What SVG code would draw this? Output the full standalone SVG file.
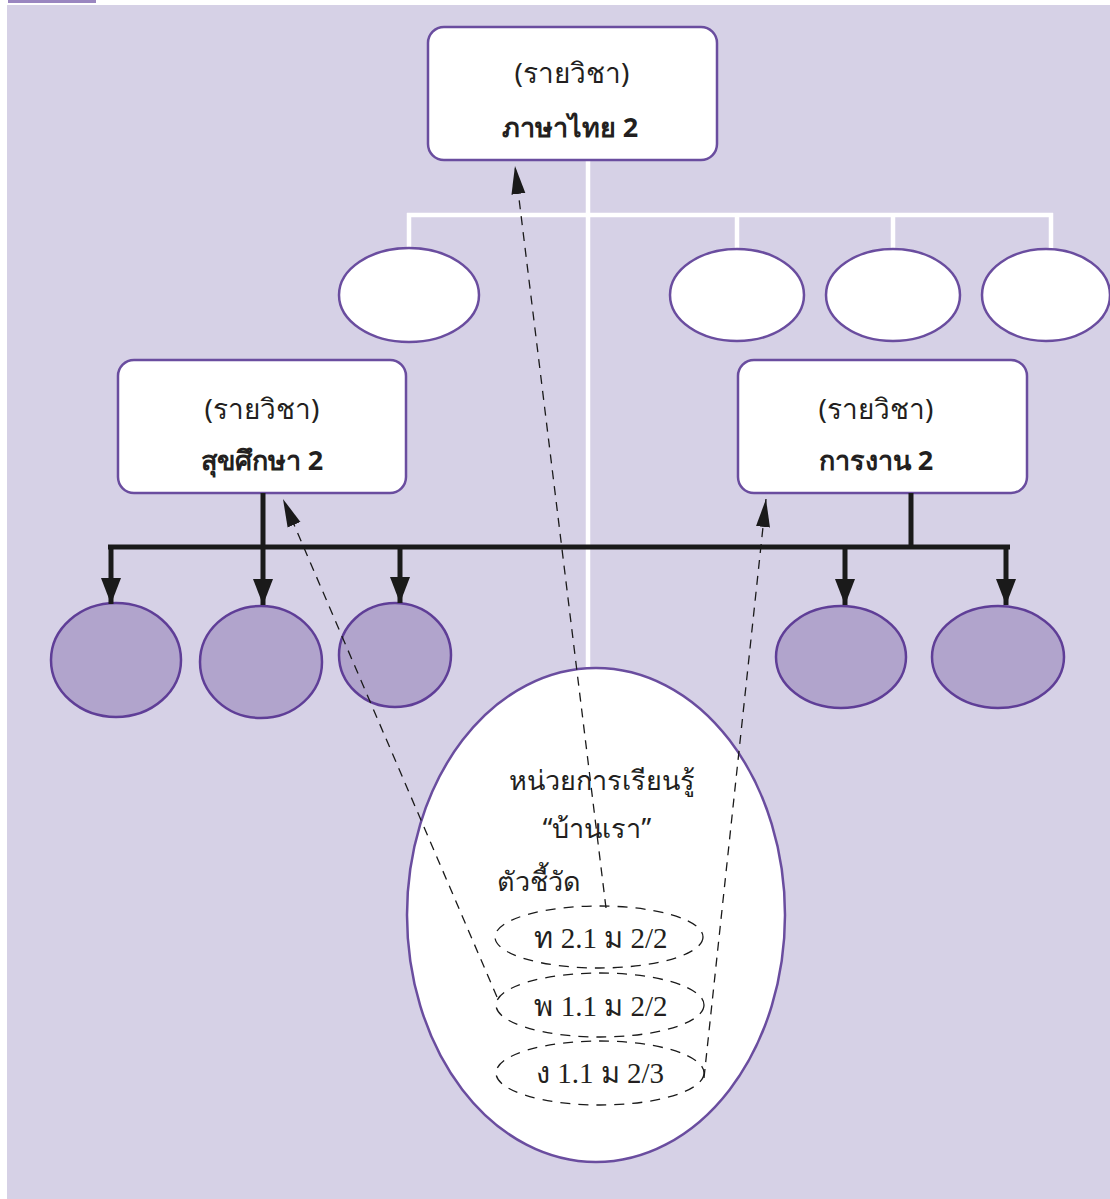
<svg xmlns="http://www.w3.org/2000/svg" width="1110" height="1199" viewBox="0 0 1110 1199">
<defs>
<style>
.bg{fill:#d6d1e6}
.box{fill:#ffffff;stroke:#6a4d9f;stroke-width:2.5}
.wel{fill:#ffffff;stroke:#6a4d9f;stroke-width:2.5}
.pel{fill:#b1a4cc;stroke:#5f3e97;stroke-width:2.5}
.wline{stroke:#ffffff;stroke-width:4.5;fill:none}
.bline{stroke:#1a1a1a;stroke-width:5;fill:none}
.dash{stroke:#1a1a1a;stroke-width:1.3;fill:none;stroke-dasharray:9,7}
.dell{fill:none;stroke:#1a1a1a;stroke-width:1.3;stroke-dasharray:10,8}
.t{font-family:'Noto Sans','Liberation Sans',sans-serif;font-size:28px;fill:#231f20;text-anchor:middle}
.tb{font-weight:bold;font-size:27px}
.ts{font-family:'Noto Sans','Liberation Sans',sans-serif;font-size:27px;fill:#231f20;text-anchor:middle}
.ti{font-family:'Liberation Serif','Noto Sans',serif;font-size:29px;fill:#231f20;text-anchor:middle}
</style>
<marker id="dh" viewBox="0 0 28 16" refX="28" refY="8" markerWidth="28" markerHeight="16" orient="auto" markerUnits="userSpaceOnUse">
<path d="M0,1 L28,8 L0,15 Z" fill="#1a1a1a"/>
</marker>
<marker id="bh" viewBox="0 0 26 20" refX="26" refY="10" markerWidth="26" markerHeight="20" orient="auto" markerUnits="userSpaceOnUse">
<path d="M0,0 L26,10 L0,20 Z" fill="#1a1a1a"/>
</marker>
</defs>
<rect x="0" y="0" width="1110" height="1199" fill="#ffffff"/>
<rect class="bg" x="7" y="5" width="1103" height="1194"/>
<rect x="8" y="0" width="88" height="3" fill="#9a86c0"/>

<g id="white-connectors">
<line class="wline" x1="588" y1="160" x2="588" y2="669"/>
<line class="wline" x1="407" y1="215" x2="1053" y2="215"/>
<line class="wline" x1="409" y1="213" x2="409" y2="249"/>
<line class="wline" x1="737" y1="213" x2="737" y2="249"/>
<line class="wline" x1="893" y1="213" x2="893" y2="249"/>
<line class="wline" x1="1051" y1="213" x2="1051" y2="249"/>
</g>

<g id="node-top">
<rect class="box" x="428" y="27" width="289" height="133" rx="16"/>
<text class="t" x="572" y="83">(รายวิชา)</text>
<text class="t tb" x="570" y="137">ภาษาไทย 2</text>
</g>

<g id="node-w1"><ellipse class="wel" cx="409" cy="295" rx="70" ry="47"/></g>
<g id="node-w2"><ellipse class="wel" cx="737" cy="295" rx="67" ry="46"/></g>
<g id="node-w3"><ellipse class="wel" cx="893" cy="295" rx="67" ry="46"/></g>
<g id="node-w4"><ellipse class="wel" cx="1046" cy="295" rx="64" ry="46"/></g>

<g id="node-left">
<rect class="box" x="118" y="360" width="288" height="133" rx="16"/>
<text class="t" x="262" y="419">(รายวิชา)</text>
<text class="t tb" x="262" y="470">สุขศึกษา 2</text>
</g>

<g id="node-right">
<rect class="box" x="738" y="360" width="289" height="133" rx="16"/>
<text class="t" x="876" y="419">(รายวิชา)</text>
<text class="t tb" x="876" y="470">การงาน 2</text>
</g>

<g id="node-p1"><ellipse class="pel" cx="116" cy="660" rx="65" ry="57"/></g>
<g id="node-p2"><ellipse class="pel" cx="261" cy="662" rx="61" ry="56"/></g>
<g id="node-p3"><ellipse class="pel" cx="395" cy="655" rx="56" ry="52"/></g>
<g id="node-p4"><ellipse class="pel" cx="841" cy="657" rx="65" ry="51"/></g>
<g id="node-p5"><ellipse class="pel" cx="998" cy="657" rx="66" ry="51"/></g>

<g id="black-connectors">
<line class="bline" x1="263" y1="493" x2="263" y2="547"/>
<line class="bline" x1="911" y1="493" x2="911" y2="547"/>
<line class="bline" x1="108" y1="547" x2="1010" y2="547"/>
<line class="bline" x1="111" y1="545" x2="111" y2="604" marker-end="url(#bh)"/>
<line class="bline" x1="263" y1="545" x2="263" y2="605" marker-end="url(#bh)"/>
<line class="bline" x1="400" y1="545" x2="400" y2="603" marker-end="url(#bh)"/>
<line class="bline" x1="845" y1="545" x2="845" y2="605" marker-end="url(#bh)"/>
<line class="bline" x1="1006" y1="545" x2="1006" y2="605" marker-end="url(#bh)"/>
</g>

<g id="node-unit">
<ellipse class="wel" cx="596" cy="915" rx="189" ry="247"/>
<text class="ts" x="602" y="790">หน่วยการเรียนรู้</text>
<text class="ts" x="597" y="838">“บ้านเรา”</text>
<text class="ts" x="497" y="891" style="text-anchor:start">ตัวชี้วัด</text>
<ellipse class="dell" cx="599" cy="937" rx="104" ry="31"/>
<text class="ti" x="601" y="948">ท 2.1 ม 2/2</text>
<ellipse class="dell" cx="600" cy="1005" rx="104" ry="32"/>
<text class="ti" x="601" y="1016">พ 1.1 ม 2/2</text>
<ellipse class="dell" cx="600" cy="1073" rx="104" ry="32"/>
<text class="ti" x="600" y="1083">ง 1.1 ม 2/3</text>
</g>

<g id="dashed-connectors">
<line class="dash" x1="606" y1="908" x2="515" y2="166" marker-end="url(#dh)"/>
<line class="dash" x1="497" y1="997" x2="283" y2="499" marker-end="url(#dh)"/>
<line class="dash" x1="704" y1="1078" x2="766" y2="499" marker-end="url(#dh)"/>
</g>
</svg>
